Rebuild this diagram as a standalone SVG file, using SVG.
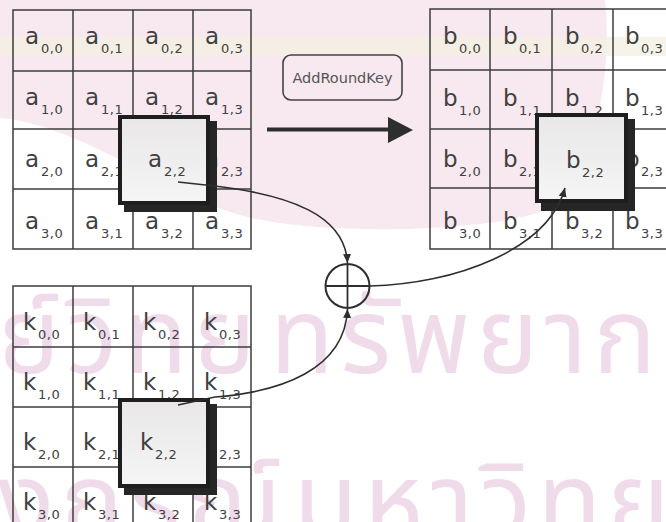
<svg xmlns="http://www.w3.org/2000/svg" width="666" height="522" viewBox="0 0 666 522">
<style>
  .wm { font-family: "Noto Sans Thai", "Noto Sans", "DejaVu Sans", sans-serif; font-size: 105px; fill: #f0dbea; letter-spacing: 6px; }
  .gl { stroke: #3c3c3c; stroke-width: 1.5; fill: none; }
  .t { font-family: "DejaVu Sans", Verdana, sans-serif; font-size: 23px; fill: #404040; }
  .s { font-family: "DejaVu Sans", Verdana, sans-serif; font-size: 13px; letter-spacing: 0.5px; fill: #404040; }
  .sh { fill: #262626; }
  .hl { fill: url(#boxfill); stroke: #1e1e1e; stroke-width: 4; }
  .conn { fill: none; stroke: #2e2e2e; stroke-width: 1.6; }
</style>
<defs>
  <linearGradient id="boxfill" x1="0" y1="0" x2="0" y2="1">
    <stop offset="0" stop-color="#e9e7e8"/>
    <stop offset="1" stop-color="#f5f5f5"/>
  </linearGradient>
  <marker id="ah" viewBox="0 0 9 8" refX="9" refY="4" markerWidth="9" markerHeight="8" markerUnits="userSpaceOnUse" orient="auto">
    <path d="M0,0 L9,4 L0,8 z" fill="#2e2e2e"/>
  </marker>
</defs>

<g id="background">
  <rect x="0" y="0" width="666" height="522" fill="#ffffff"/>
  <path d="M0,0 H605 C612,70 598,160 555,205 C515,232 320,238 240,215 C170,195 80,125 0,118 Z" fill="#f8e9f0"/>
  <rect x="0" y="37" width="666" height="19" fill="#f2f0de" opacity="0.7"/>
  <text class="wm" x="262" y="373" text-anchor="end">ศูนย์วิทย</text>
  <text class="wm" x="270" y="373">ทรัพยากร</text>
  <text class="wm" x="288" y="538" text-anchor="end">จุฬาลงกรณ์</text>
  <text class="wm" x="293" y="538">มหาวิทยาลัย</text>
</g>

<g id="state-a">
  <rect class="gl" x="13" y="10" width="238" height="239"/>
  <line class="gl" x1="73" y1="10" x2="73" y2="249"/>
  <line class="gl" x1="133" y1="10" x2="133" y2="249"/>
  <line class="gl" x1="193" y1="10" x2="193" y2="249"/>
  <line class="gl" x1="13" y1="71" x2="251" y2="71"/>
  <line class="gl" x1="13" y1="129" x2="251" y2="129"/>
  <line class="gl" x1="13" y1="189" x2="251" y2="189"/>
  <text class="t" x="25" y="44">a</text><text class="s" x="41" y="53">0,0</text>
  <text class="t" x="85" y="44">a</text><text class="s" x="101" y="53">0,1</text>
  <text class="t" x="145" y="44">a</text><text class="s" x="161" y="53">0,2</text>
  <text class="t" x="205" y="44">a</text><text class="s" x="221" y="53">0,3</text>
  <text class="t" x="25" y="105">a</text><text class="s" x="41" y="114">1,0</text>
  <text class="t" x="85" y="105">a</text><text class="s" x="101" y="114">1,1</text>
  <text class="t" x="145" y="105">a</text><text class="s" x="161" y="114">1,2</text>
  <text class="t" x="205" y="105">a</text><text class="s" x="221" y="114">1,3</text>
  <text class="t" x="25" y="167">a</text><text class="s" x="41" y="176">2,0</text>
  <text class="t" x="85" y="167">a</text><text class="s" x="101" y="176">2,1</text>
  <text class="t" x="205" y="167">a</text><text class="s" x="221" y="176">2,3</text>
  <text class="t" x="25" y="229">a</text><text class="s" x="41" y="238">3,0</text>
  <text class="t" x="85" y="229">a</text><text class="s" x="101" y="238">3,1</text>
  <text class="t" x="145" y="229">a</text><text class="s" x="161" y="238">3,2</text>
  <text class="t" x="205" y="229">a</text><text class="s" x="221" y="238">3,3</text>
</g>
<g id="cell-a22">
  <rect class="sh" x="124" y="121" width="93" height="91"/>
  <rect class="hl" x="120" y="117" width="88" height="86"/>
  <text class="t" x="148" y="167">a</text><text class="s" x="164" y="176">2,2</text>
</g>

<g id="state-b">
  <rect class="gl" x="430" y="9" width="243" height="240"/>
  <line class="gl" x1="490" y1="9" x2="490" y2="249"/>
  <line class="gl" x1="552" y1="9" x2="552" y2="249"/>
  <line class="gl" x1="613" y1="9" x2="613" y2="249"/>
  <line class="gl" x1="430" y1="70" x2="673" y2="70"/>
  <line class="gl" x1="430" y1="129" x2="673" y2="129"/>
  <line class="gl" x1="430" y1="188" x2="673" y2="188"/>
  <text class="t" x="443" y="44">b</text><text class="s" x="459" y="53">0,0</text>
  <text class="t" x="503" y="44">b</text><text class="s" x="519" y="53">0,1</text>
  <text class="t" x="565" y="44">b</text><text class="s" x="581" y="53">0,2</text>
  <text class="t" x="625" y="44">b</text><text class="s" x="641" y="53">0,3</text>
  <text class="t" x="443" y="106">b</text><text class="s" x="459" y="115">1,0</text>
  <text class="t" x="503" y="106">b</text><text class="s" x="519" y="115">1,1</text>
  <text class="t" x="565" y="106">b</text><text class="s" x="581" y="115">1,2</text>
  <text class="t" x="625" y="106">b</text><text class="s" x="641" y="115">1,3</text>
  <text class="t" x="443" y="167">b</text><text class="s" x="459" y="176">2,0</text>
  <text class="t" x="503" y="167">b</text><text class="s" x="519" y="176">2,1</text>
  <text class="t" x="625" y="167">b</text><text class="s" x="641" y="176">2,3</text>
  <text class="t" x="443" y="229">b</text><text class="s" x="459" y="238">3,0</text>
  <text class="t" x="503" y="229">b</text><text class="s" x="519" y="238">3,1</text>
  <text class="t" x="565" y="229">b</text><text class="s" x="581" y="238">3,2</text>
  <text class="t" x="625" y="229">b</text><text class="s" x="641" y="238">3,3</text>
</g>
<g id="cell-b22">
  <rect class="sh" x="541" y="119" width="94" height="92"/>
  <rect class="hl" x="537" y="115" width="89" height="86"/>
  <text class="t" x="566" y="168">b</text><text class="s" x="582" y="177">2,2</text>
</g>

<g id="key-k">
  <rect class="gl" x="13" y="286" width="238" height="241"/>
  <line class="gl" x1="73" y1="286" x2="73" y2="527"/>
  <line class="gl" x1="133" y1="286" x2="133" y2="527"/>
  <line class="gl" x1="193" y1="286" x2="193" y2="527"/>
  <line class="gl" x1="13" y1="347" x2="251" y2="347"/>
  <line class="gl" x1="13" y1="407" x2="251" y2="407"/>
  <line class="gl" x1="13" y1="467" x2="251" y2="467"/>
  <text class="t" x="23" y="330">k</text><text class="s" x="38" y="339">0,0</text>
  <text class="t" x="83" y="330">k</text><text class="s" x="98" y="339">0,1</text>
  <text class="t" x="143" y="330">k</text><text class="s" x="158" y="339">0,2</text>
  <text class="t" x="204" y="330">k</text><text class="s" x="219" y="339">0,3</text>
  <text class="t" x="23" y="390">k</text><text class="s" x="38" y="399">1,0</text>
  <text class="t" x="83" y="390">k</text><text class="s" x="98" y="399">1,1</text>
  <text class="t" x="143" y="390">k</text><text class="s" x="158" y="399">1,2</text>
  <text class="t" x="204" y="390">k</text><text class="s" x="219" y="399">1,3</text>
  <text class="t" x="23" y="450">k</text><text class="s" x="38" y="459">2,0</text>
  <text class="t" x="83" y="450">k</text><text class="s" x="98" y="459">2,1</text>
  <text class="t" x="204" y="450">k</text><text class="s" x="219" y="459">2,3</text>
  <text class="t" x="23" y="510">k</text><text class="s" x="38" y="519">3,0</text>
  <text class="t" x="83" y="510">k</text><text class="s" x="98" y="519">3,1</text>
  <text class="t" x="143" y="510">k</text><text class="s" x="158" y="519">3,2</text>
  <text class="t" x="204" y="510">k</text><text class="s" x="219" y="519">3,3</text>
</g>
<g id="cell-k22">
  <rect class="sh" x="124" y="404" width="93" height="91"/>
  <rect class="hl" x="120" y="400" width="88" height="86"/>
  <text class="t" x="140" y="450">k</text><text class="s" x="155" y="459">2,2</text>
</g>

<g id="addroundkey">
  <rect x="283" y="55" width="119" height="45" rx="8" fill="none" stroke="#444" stroke-width="1.6"/>
  <text x="342.5" y="83" text-anchor="middle" font-family="DejaVu Sans, Verdana, sans-serif" font-size="14.5" fill="#555">AddRoundKey</text>
</g>

<g id="xor">
  <circle cx="347.5" cy="286" r="22" fill="none" stroke="#2e2e2e" stroke-width="2"/>
  <line x1="325.5" y1="286" x2="369.5" y2="286" stroke="#2e2e2e" stroke-width="1.8"/>
  <line x1="347.5" y1="264" x2="347.5" y2="308" stroke="#2e2e2e" stroke-width="1.8"/>
</g>

<g id="connectors">
  <line x1="267" y1="129.5" x2="392" y2="129.5" stroke="#2e2e2e" stroke-width="4"/>
  <path d="M388,117 L413,130 L388,143 z" fill="#2e2e2e"/>
  <path class="conn" d="M178,182 L215,186 C290,195 345,215 347.5,263" marker-end="url(#ah)"/>
  <path class="conn" d="M178,405 L215,397 C280,392 345,370 347.5,309" marker-end="url(#ah)"/>
  <path class="conn" d="M370,286 C455,284 548,250 565,188" marker-end="url(#ah)"/>
</g>
</svg>
